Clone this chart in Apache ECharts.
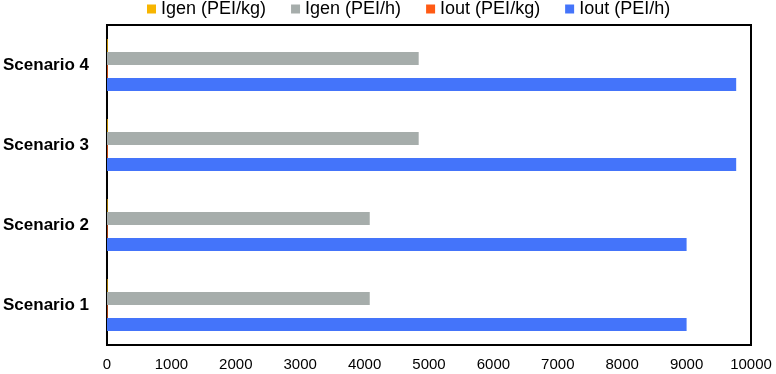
<!DOCTYPE html>
<html>
<head>
<meta charset="utf-8">
<script src="https://cdn.jsdelivr.net/npm/echarts@6/dist/echarts.min.js"></script>
<style>
  html, body { margin: 0; padding: 0; background: #fff; }
  #chart { width: 776px; height: 374px; }
</style>
</head>
<body>
<div id="chart"></div>
<script>
// 数据
const scenarios = ["Scenario 1", "Scenario 2", "Scenario 3", "Scenario 4"];
const seriesNames = ["Igen (PEI/kg)", "Igen (PEI/h)", "Iout (PEI/kg)", "Iout (PEI/h)"];
const igenKg = [10, 10, 12, 12];
const igenH = [4080, 4080, 4840, 4840];
const ioutKg = [10, 10, 12, 12];
const ioutH = [9000, 9000, 9770, 9770];
const xTicks = [0, 1000, 2000, 3000, 4000, 5000, 6000, 7000, 8000, 9000, 10000];

const colors = ["#F7B500", "#A6ADAB", "#FF5A14", "#4474FA"];
const font = "Liberation Sans, Arial, Helvetica, sans-serif";

let chart = echarts.init(document.getElementById("chart"));
let values = [igenKg, igenH, ioutKg, ioutH];

let option = {
  animation: false,
  textStyle: { fontFamily: font },
  legend: {
    data: seriesNames,
    top: 0,
    left: 147,
    padding: [0, 0, 0, 0],
    itemWidth: 9,
    itemHeight: 9,
    itemGap: 25,
    icon: "rect",
    textStyle: { fontSize: 18, color: "#000", fontFamily: font }
  },
  grid: {
    left: 106,
    right: 25,
    top: 25,
    bottom: 29,
    show: true,
    borderColor: "#000",
    borderWidth: 2,
    backgroundColor: "#fff"
  },
  xAxis: {
    type: "value",
    min: xTicks[0],
    max: xTicks[xTicks.length - 1],
    interval: 1000,
    axisLine: { show: false },
    axisTick: { show: false },
    splitLine: { show: false },
    axisLabel: {
      color: "#000",
      fontSize: 15,
      margin: 12,
      fontFamily: font,
      formatter: v => String(v) // 不要千位分隔符
    }
  },
  yAxis: {
    type: "category",
    data: scenarios,
    axisLine: { show: false },
    axisTick: { show: false },
    axisLabel: { color: "#000", fontSize: 17, fontWeight: "bold", margin: 18, fontFamily: font }
  },
  series: seriesNames.map((name, i) => ({
    name: name,
    type: "bar",
    data: values[i],
    barGap: "0%",
    barCategoryGap: "35%",
    itemStyle: { color: colors[i] }
  }))
};

chart.setOption(option, true);
</script>
</body>
</html>
